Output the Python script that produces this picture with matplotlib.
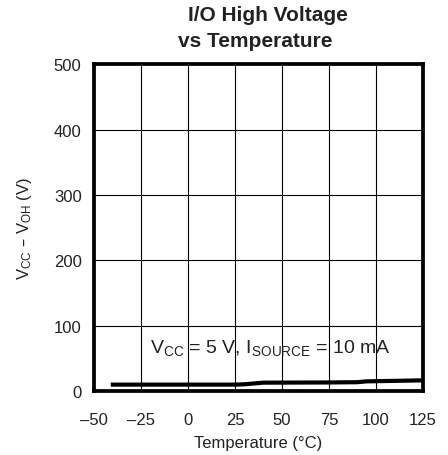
import matplotlib
matplotlib.use("Agg")
import matplotlib.pyplot as plt

temps = [-40, 0, 25, 30, 40, 75, 90, 95, 125]
vdrop = [10, 10, 10, 10.5, 13, 13.3, 13.7, 15, 16.5]
xticks = [-50, -25, 0, 25, 50, 75, 100, 125]
yticks = [0, 100, 200, 300, 400, 500]

plt.rcParams['font.family'] = ['Liberation Sans', 'DejaVu Sans']
plt.rcParams['mathtext.default'] = 'regular'
txt = '#222222'

fig = plt.figure(figsize=(4.48, 4.56), dpi=100)
ax = fig.add_axes([0.21, 0.14, 0.734, 0.717])
ax.plot(temps, vdrop, color='black', lw=3)
ax.set_xlim(-50, 125)
ax.set_ylim(0, 500)
ax.set_xticks(xticks)
ax.set_yticks(yticks)
ax.set_xticklabels([str(t).replace('-', '\u2013') for t in xticks])
ax.grid(True, color='black', lw=0.8)
ax.tick_params(axis='y', length=0, labelsize=12, pad=9, labelcolor=txt)
ax.tick_params(axis='x', length=0, labelsize=12, pad=15, labelcolor=txt)
for s in ax.spines.values():
    s.set_linewidth(2.7)
ax.set_xlabel('Temperature (°C)', fontsize=12, labelpad=6, color=txt)
ax.set_ylabel('V$_{CC}$ – V$_{OH}$ (V)', fontsize=12, labelpad=14, color=txt)
fig.text(0.597, 0.955, 'I/O High Voltage', ha='center', va='baseline',
         fontsize=15, fontweight='bold', color=txt)
fig.text(0.570, 0.898, 'vs Temperature', ha='center', va='baseline',
         fontsize=15, fontweight='bold', color=txt)
ax.text(43.9, 59.6, 'V$_{CC}$ = 5 V, I$_{SOURCE}$ = 10 mA', ha='center', va='baseline',
        fontsize=14, color=txt)
fig.savefig('out.png', dpi=100)
